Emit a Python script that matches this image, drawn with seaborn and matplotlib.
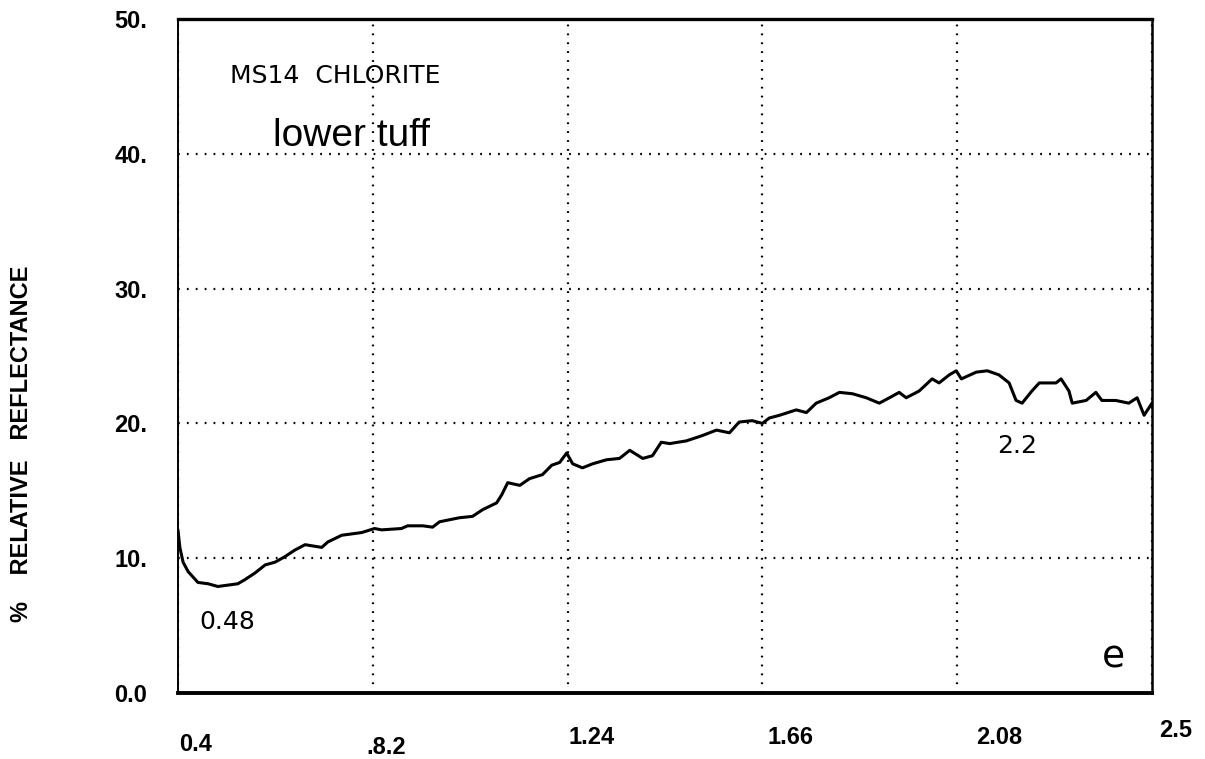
import matplotlib
matplotlib.use("Agg")
import matplotlib.pyplot as plt
import numpy as np
import pandas as pd
import seaborn as sns

# spectrum (wavelength in um, % relative reflectance)
wavelength = [0.400, 0.404, 0.411, 0.422, 0.443, 0.465, 0.486, 0.529, 0.544, 0.566,
              0.588, 0.609, 0.630, 0.652, 0.674, 0.710, 0.723, 0.753, 0.796, 0.824,
              0.839, 0.882, 0.895, 0.928, 0.949, 0.964, 1.007, 1.035, 1.057, 1.087,
              1.098, 1.111, 1.137, 1.158, 1.186, 1.206, 1.223, 1.238, 1.251, 1.272,
              1.294, 1.324, 1.352, 1.374, 1.402, 1.423, 1.442, 1.460, 1.496, 1.531,
              1.561, 1.589, 1.610, 1.638, 1.660, 1.675, 1.697, 1.733, 1.755, 1.776,
              1.804, 1.826, 1.854, 1.884, 1.912, 1.934, 1.955, 1.970, 1.998, 2.026,
              2.041, 2.063, 2.078, 2.089, 2.121, 2.145, 2.170, 2.192, 2.207, 2.220,
              2.241, 2.257, 2.293, 2.304, 2.321, 2.328, 2.358, 2.379, 2.392, 2.422,
              2.450, 2.468, 2.483, 2.500]
reflectance = [12.1, 10.8, 9.7, 9.0, 8.2, 8.1, 7.9, 8.1, 8.4, 8.9,
               9.5, 9.7, 10.1, 10.6, 11.0, 10.8, 11.2, 11.7, 11.9, 12.2,
               12.1, 12.2, 12.4, 12.4, 12.3, 12.7, 13.0, 13.1, 13.6, 14.1,
               14.7, 15.6, 15.4, 15.9, 16.2, 16.9, 17.1, 17.8, 17.0, 16.7,
               17.0, 17.3, 17.4, 18.0, 17.4, 17.6, 18.6, 18.5, 18.7, 19.1,
               19.5, 19.3, 20.1, 20.2, 20.0, 20.4, 20.6, 21.0, 20.8, 21.5,
               21.9, 22.3, 22.2, 21.9, 21.5, 21.9, 22.3, 21.9, 22.4, 23.3,
               23.0, 23.6, 23.9, 23.3, 23.8, 23.9, 23.6, 23.0, 21.7, 21.5,
               22.4, 23.0, 23.0, 23.3, 22.4, 21.5, 21.7, 22.3, 21.7, 21.7,
               21.5, 21.9, 20.6, 21.5]

x_ticks = [0.4, 0.82, 1.24, 1.66, 2.08, 2.5]
x_ticklabels = ["0.4", ".8.2", "1.24", "1.66", "2.08", "2.5"]
y_ticks = [0, 10, 20, 30, 40, 50]
y_ticklabels = ["0.0", "10.", "20.", "30.", "40.", "50."]

df = pd.DataFrame({"WAVELENGTH": wavelength, "REFLECTANCE": reflectance})

sns.set_style("white")
plt.rcParams["font.family"] = ["Liberation Sans", "DejaVu Sans"]
plt.rcParams["text.color"] = "black"
plt.rcParams["xtick.color"] = "black"
plt.rcParams["ytick.color"] = "black"
plt.rcParams["axes.labelcolor"] = "black"

fig = plt.figure(figsize=(12.05, 7.59), dpi=100)
ax = fig.add_axes([0.1477, 0.087, 0.8083, 0.888])

sns.lineplot(data=df, x="WAVELENGTH", y="REFLECTANCE", color="black", lw=2.2, ax=ax)

ax.set_xlim(0.4, 2.5)
ax.set_ylim(0, 50)
ax.set_xticks(x_ticks, labels=[""] * len(x_ticks))
ax.set_yticks(y_ticks, labels=y_ticklabels)

# the pasted-on x labels sit a bit off their gridlines in the scan (offsets in points)
nudge = [(13, -4), (10, -6), (17, 1), (20, 1), (30, 1), (17, 6)]
for xt, txt, (dx, dy) in zip(x_ticks, x_ticklabels, nudge):
    ax.annotate(txt, xy=(xt, 0), xycoords=("data", "axes fraction"),
                xytext=(dx, -33 + dy), textcoords="offset points",
                ha="center", va="center", fontsize=17, fontweight="bold",
                family=["Liberation Sans Narrow", "Liberation Sans", "DejaVu Sans"],
                annotation_clip=False)

for lab in ax.get_yticklabels():
    lab.set_fontweight("bold")
    lab.set_fontsize(17)
ax.tick_params(axis="x", length=0, pad=0)
ax.tick_params(axis="y", length=0, pad=22)
ax.set_xlabel("")
ax.set_ylabel("%    RELATIVE   REFLECTANCE", fontsize=17, fontweight="bold")
ax.yaxis.set_label_coords(-0.149, 0.37)

ax.grid(True, color="black", linestyle=(0, (0.8, 3.2)), lw=1.6)
for side, w in [("top", 2.4), ("bottom", 2.8), ("left", 1.4), ("right", 1.8)]:
    ax.spines[side].set_visible(True)
    ax.spines[side].set_color("black")
    ax.spines[side].set_linewidth(w)

ax.text(0.512, 45.8, "MS14  CHLORITE", fontsize=18, family="DejaVu Sans", va="center", ha="left")
ax.text(0.605, 41.3, "lower tuff", fontsize=28, va="center", ha="left")
ax.text(0.447, 5.3, "0.48", fontsize=18, family="DejaVu Sans", va="center", ha="left")
ax.text(2.166, 18.3, "2.2", fontsize=18, family="DejaVu Sans", va="center", ha="left")
ax.text(2.392, 2.6, "e", fontsize=27, family="DejaVu Sans", va="center", ha="left")

plt.savefig("out.png", dpi=100)
plt.close()
